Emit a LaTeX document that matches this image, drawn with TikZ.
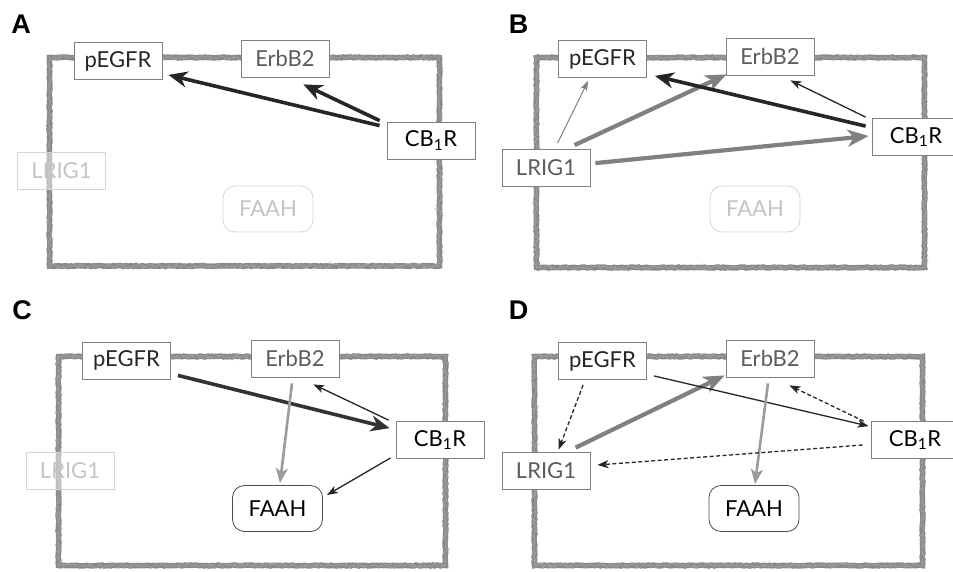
\documentclass[tikz,border=0pt]{standalone}
\usepackage{fontspec}
\setmainfont{Lato}
\newfontfamily\panelfont{Liberation Sans}
\usetikzlibrary{arrows.meta,calc,decorations.pathmorphing}

\definecolor{membranegray}{HTML}{8A8A8A}
\definecolor{boxgray}{HTML}{808080}
\definecolor{inkdark}{HTML}{262626}
\definecolor{inkgray}{HTML}{5C5C5C}
\definecolor{arrowgray}{HTML}{808080}
\definecolor{lightarrow}{HTML}{9C9C9C}
\definecolor{fadeline}{HTML}{D4D4D4}
\definecolor{fadetext}{HTML}{C4C4C4}

\newcommand\protfont{\fontsize{22}{26}\selectfont}

\tikzset{
  membrane/.style={draw=membranegray, line width=5.5pt,
    decorate, decoration={random steps, segment length=2pt, amplitude=0.5pt}},
  membraneedge/.style={draw=membranegray!85, line width=1pt,
    decorate, decoration={random steps, segment length=1.5pt, amplitude=1.8pt}},
  protein/.style={draw=boxgray, line width=0.8pt, fill=white,
    minimum width=88pt, minimum height=37pt, inner sep=0pt, font=\protfont},
  enzyme/.style={protein, minimum width=90pt, minimum height=46pt,
    rounded corners=12pt, draw=black!70},
  faded/.style={draw=fadeline, text=fadetext, fill=white, fill opacity=0.45,
    text opacity=1},
  fadedenzyme/.style={draw=fadeline, text=fadetext},
  panel/.style={font=\panelfont\bfseries\fontsize{27}{30}\selectfont},
  thickblk/.style={draw=inkdark, line width=3.6pt,
    -{Stealth[length=19pt,width=16pt,inset=6pt]}},
  thickgry/.style={draw=arrowgray, line width=4.2pt,
    -{Stealth[length=21pt,width=17pt,inset=6pt]}},
  midgry/.style={draw=lightarrow, line width=2.6pt,
    -{Stealth[length=15pt,width=12pt,inset=4pt]}},
  thinblk/.style={draw=inkdark, line width=1.3pt,
    -{Stealth[length=11pt,width=8pt,inset=3pt]}},
  thingry/.style={draw=boxgray, line width=1pt,
    -{Stealth[length=10pt,width=7pt,inset=2.5pt]}},
  dashblk/.style={thinblk, dash pattern=on 4pt off 2.5pt}
}

\newcommand\cellwall[4]{%
  \draw[membrane] (#1,#2) rectangle (#3,#4);
  \draw[membraneedge] (#1,#2) rectangle (#3,#4);}

\begin{document}
\begin{tikzpicture}[x=1pt,y=-1pt]
\pgfmathsetseed{7}
\useasboundingbox (0,0) rectangle (953,572);

% ---------------- panel A ----------------
\node[panel] (labA) at (21,24) {A};
\cellwall{49.5}{57.5}{439.5}{266}
\node[protein, faded] (aL) at (61.5,170.5) {LRIG1};
\node[enzyme, fadedenzyme] (aF) at (268,209) {FAAH};
\node[protein, text=inkdark] (aP) at (118,61) {pEGFR};
\node[protein, text=inkgray] (aE) at (285,58.5) {ErbB2};
\node[protein, text=black] (aC) at (431,140.5) {CB\textsubscript{1}R};
\draw[thickblk] ($(aC.north west)+(-7,4)$) -- ($(aP.south east)+(6,-5)$);
\draw[thickblk] ($(aC.north west)+(-7,-1)$) -- ($(aE.south east)+(-26,7)$);

% ---------------- panel B ----------------
\node[panel] (labB) at (518.5,24) {B};
\cellwall{536.5}{57.5}{924.5}{267.5}
\node[enzyme, fadedenzyme] (bF) at (755,209) {FAAH};
\node[protein, text=inkdark] (bP) at (602.5,59) {pEGFR};
\node[protein, text=inkgray] (bE) at (770,56.5) {ErbB2};
\node[protein, text=black] (bC) at (916,137) {CB\textsubscript{1}R};
\node[protein, text=inkgray] (bL) at (546,168) {LRIG1};
\draw[thingry] ($(bL.north west)+(56,-6)$) -- ($(bP.south west)+(30,3)$);
\draw[thickgry] ($(bL.north west)+(73,-4)$) -- ($(bE.south west)+(1,-1)$);
\draw[thickgry] ($(bL.north east)+(5,14)$) -- ($(bC.west)+(-3,-1)$);
\draw[thickblk] ($(bC.north west)+(-6,8)$) -- ($(bP.south east)+(8,-2)$);
\draw[thinblk] ($(bC.north west)+(-6,-1)$) -- ($(bE.south east)+(-24,5)$);

% ---------------- panel C ----------------
\node[panel] (labC) at (22,310) {C};
\cellwall{58.5}{356.5}{445.5}{565.5}
\node[protein, faded] (cL) at (70,470.5) {LRIG1};
\node[enzyme, text=black] (cF) at (277.5,508.5) {FAAH};
\node[protein, text=inkdark] (cP) at (126.5,360.5) {pEGFR};
\node[protein, text=inkgray] (cE) at (295,358.5) {ErbB2};
\node[protein, text=black] (cC) at (440,440) {CB\textsubscript{1}R};
\draw[thickblk, draw=black!80] ($(cP.south east)+(7,-4)$) -- ($(cC.north west)+(-6,7)$);
\draw[thinblk] ($(cC.north west)+(-7,-1)$) -- ($(cE.south east)+(-26,7)$);
\draw[midgry] ($(cE.south)+(-3,6)$) -- ($(cF.north)+(2.5,-2)$);
\draw[thinblk] ($(cC.south west)+(-5,-1)$) -- ($(cF.east)+(4,-13.5)$);

% ---------------- panel D ----------------
\node[panel] (labD) at (518.5,310) {D};
\cellwall{534.5}{356.5}{922.5}{565.5}
\node[enzyme, text=black] (dF) at (754,508.5) {FAAH};
\node[protein, text=inkdark] (dP) at (602.5,361) {pEGFR};
\node[protein, text=inkgray] (dE) at (770,358.5) {ErbB2};
\node[protein, text=black] (dC) at (915,440) {CB\textsubscript{1}R};
\node[protein, text=inkgray] (dL) at (546,470.5) {LRIG1};
\draw[dashblk] ($(dP.south west)+(25,5)$) -- ($(dL.north west)+(57,-2)$);
\draw[thickgry] ($(dL.north west)+(74,-4)$) -- ($(dE.south west)+(-1,-2)$);
\draw[thinblk] ($(dP.south east)+(7,-4)$) -- ($(dC.north west)+(-2,5)$);
\draw[dashblk] ($(dC.north west)+(-7,0)$) -- ($(dE.south east)+(-25,8)$);
\draw[midgry] ($(dE.south)+(-2,6)$) -- ($(dF.north)+(1,-1)$);
\draw[dashblk] ($(dC.west)+(-8,5)$) -- ($(dL.east)+(7,-5.5)$);
\end{tikzpicture}
\end{document}
